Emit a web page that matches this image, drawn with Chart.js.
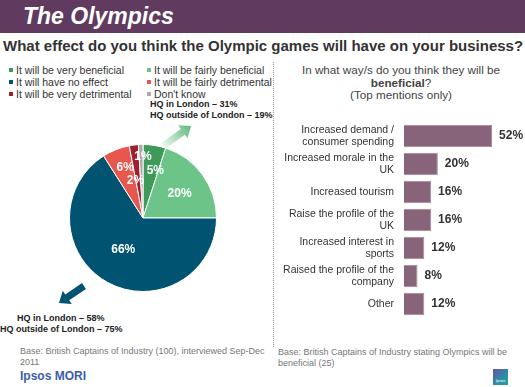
<!DOCTYPE html>
<html><head><meta charset="utf-8">
<script src="https://cdn.jsdelivr.net/npm/chart.js@4/dist/chart.umd.min.js"></script>
<style>
html,body{margin:0;padding:0;background:#fff;}
body{width:525px;height:387px;position:relative;overflow:hidden;font-family:"Liberation Sans",Arial,sans-serif;color:#333;}
.abs{position:absolute;white-space:nowrap;}
#band{left:0;top:0;width:525px;height:33px;background:#603b5f;}
#title{left:23px;top:2px;font-size:23px;font-weight:bold;font-style:italic;color:#fff;line-height:28px;}
#sub{left:3px;top:37px;font-size:15px;font-weight:bold;color:#333;line-height:18px;}
.leg{font-size:10.5px;line-height:12px;color:#333;}
.leg i{display:inline-block;width:4px;height:4px;margin-right:3px;vertical-align:2px;}
.hq{font-size:9px;font-weight:bold;color:#222;line-height:11px;}
.base{font-size:9px;color:#777;line-height:11px;}
#q{left:290px;top:64px;width:222px;text-align:center;font-size:11.7px;line-height:12.5px;color:#444;white-space:normal;}
#dots{left:273px;top:62px;height:285px;border-left:1px dotted #999;}
#ipsosmori{left:20px;top:369px;font-size:12px;font-weight:bold;color:#3b5ea8;}
#logo{left:493px;top:369px;width:15px;height:16px;background:linear-gradient(135deg,#6a4fa0 0%,#2a8fa8 60%,#19a7a0 100%);color:#fff;font-size:4px;text-align:center;line-height:24px;}
</style></head>
<body>
<div id="band" class="abs"></div>
<div id="title" class="abs">The Olympics</div>
<div id="sub" class="abs">What effect do you think the Olympic games will have on your business?</div>
<div id="legend"></div>
<div class="abs hq" style="left:150px;top:99px;">HQ in London – 31%</div>
<div class="abs hq" style="left:150px;top:110px;">HQ outside of London – 19%</div>
<div class="abs hq" style="left:17px;top:313px;">HQ in London – 58%</div>
<div class="abs hq" style="left:0px;top:324px;">HQ outside of London – 75%</div>
<div class="abs base" style="left:20px;top:346px;">Base: British Captains of Industry (100), interviewed Sep-Dec<br>2011</div>
<div id="ipsosmori" class="abs">Ipsos MORI</div>
<div id="dots" class="abs"></div>
<div id="q" class="abs">In what way/s do you think they will be<br><b>beneficial</b>?<br>(Top mentions only)</div>
<div class="abs base" style="left:278px;top:347px;">Base: British Captains of Industry stating Olympics will be<br>beneficial (25)</div>
<div id="logo" class="abs">Ipsos</div>
<svg class="abs" style="left:0;top:0;" width="525" height="387">
  <defs>
    <linearGradient id="gg" x1="0" y1="0" x2="1" y2="0">
      <stop offset="0" stop-color="#5cb878" stop-opacity="0.1"/>
      <stop offset="1" stop-color="#5cb878" stop-opacity="1"/>
    </linearGradient>
  </defs>
  <g id="arrows"></g>
</svg>
<div class="abs" style="left:69px;top:144px;width:148px;height:148px;"><canvas id="pie"></canvas></div>
<div class="abs" style="left:270px;top:106px;width:255px;height:234px;"><canvas id="bar"></canvas></div>
<script>
// ---- data ----
const pieLabels = ['It will be very beneficial','It will be fairly beneficial','It will have no effect','It will be fairly detrimental','It will be very detrimental',"Don't know"];
const pieValues = [5, 20, 66, 6, 2, 1];
const pieColors = ['#3d9a58','#6cc488','#005472','#e8574d','#9e1f2e','#a9a9a9'];
const barCategories = [['Increased demand /','consumer spending'],['Increased morale in the','UK'],['Increased tourism'],['Raise the profile of the','UK'],['Increased interest in','sports'],['Raised the profile of the','company'],['Other']];
const barValues = [52, 20, 16, 16, 12, 8, 12];

// label placement style (radius fraction, angle shift in degrees)
const pieLabelPlace = [[0.66,5.7],[0.6,2],[0.51,3],[0.72,2],[0.52,-4.3],[0.83,1.8]];

// legend
const legPos = [[9,64],[147,64],[9,76],[147,76],[9,88],[147,88]];
const legEl = document.getElementById('legend');
pieLabels.forEach((l,i)=>{
  const d=document.createElement('div');
  d.className='abs leg';
  d.style.left=legPos[i][0]+'px'; d.style.top=legPos[i][1]+'px';
  d.innerHTML='<i style="background:'+pieColors[i]+'"></i>'+l;
  legEl.appendChild(d);
});

// arrows (decoration)
function arrow(x1,y1,x2,y2,sw,hw,hl,fill){
  const L=Math.hypot(x2-x1,y2-y1), a=Math.atan2(y2-y1,x2-x1)*180/Math.PI;
  const pts=[[0,-sw/2],[L-hl,-sw/2],[L-hl,-hw/2],[L,0],[L-hl,hw/2],[L-hl,sw/2],[0,sw/2]].map(p=>p.join(',')).join(' ');
  return '<polygon points="'+pts+'" fill="'+fill+'" transform="translate('+x1+','+y1+') rotate('+a+')"/>';
}
document.getElementById('arrows').innerHTML =
  arrow(163,146,191,126,7,16,10,'url(#gg)') +
  arrow(84,286,59,303,7,16,10,'#005472');

const pieLabelPlugin = {
  id:'pieLabels',
  afterDatasetsDraw(chart){
    const ctx=chart.ctx; const meta=chart.getDatasetMeta(0);
    ctx.save();
    ctx.font='bold 12px "Liberation Sans", Arial, sans-serif';
    ctx.fillStyle='#fff'; ctx.textAlign='center'; ctx.textBaseline='middle';
    meta.data.forEach((arc,i)=>{
      const p=arc.getProps(['x','y','startAngle','endAngle','outerRadius'],true);
      const mid=(p.startAngle+p.endAngle)/2 + pieLabelPlace[i][1]*Math.PI/180;
      const r=p.outerRadius*pieLabelPlace[i][0];
      ctx.fillText(pieValues[i]+'%', p.x+Math.cos(mid)*r, p.y+Math.sin(mid)*r);
    });
    ctx.restore();
  }
};
new Chart(document.getElementById('pie'),{
  type:'pie',
  data:{labels:pieLabels,datasets:[{data:pieValues,backgroundColor:pieColors,borderColor:'#fff',borderWidth:1}]},
  options:{responsive:true,maintainAspectRatio:false,animation:false,
    layout:{padding:0},
    plugins:{legend:{display:false},tooltip:{enabled:false}}},
  plugins:[pieLabelPlugin]
});

const barLabelPlugin = {
  id:'barLabels',
  afterDatasetsDraw(chart){
    const ctx=chart.ctx; const meta=chart.getDatasetMeta(0);
    ctx.save();
    ctx.font='bold 12px "Liberation Sans", Arial, sans-serif';
    ctx.fillStyle='#333'; ctx.textAlign='left'; ctx.textBaseline='middle';
    meta.data.forEach((b,i)=>{ ctx.fillText(barValues[i]+'%', b.x+7, b.y); });
    ctx.restore();
  }
};
new Chart(document.getElementById('bar'),{
  type:'bar',
  data:{labels:barCategories,datasets:[{data:barValues,backgroundColor:'#876479',borderColor:'#a88c9d',borderWidth:1,barPercentage:0.8,categoryPercentage:1}]},
  options:{indexAxis:'y',responsive:true,maintainAspectRatio:false,animation:false,
    layout:{padding:{left:0,right:2.5,top:0,bottom:0}},
    plugins:{legend:{display:false},tooltip:{enabled:false}},
    scales:{
      x:{display:false,min:0,max:70},
      y:{grid:{display:false,drawTicks:false},border:{display:false},
         afterFit(s){s.width=134;},
         ticks:{padding:10,color:'#333',font:{size:10.5,family:'"Liberation Sans", Arial, sans-serif',lineHeight:1.15}}}
    }},
  plugins:[barLabelPlugin]
});
</script>
</body></html>
